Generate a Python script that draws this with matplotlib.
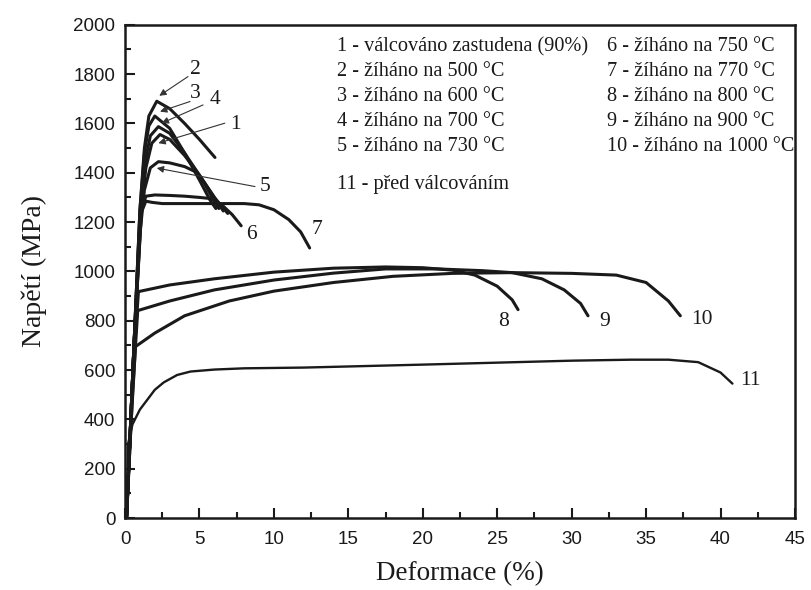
import matplotlib
matplotlib.use("Agg")
import matplotlib.pyplot as plt
from matplotlib.ticker import MultipleLocator

# ---- data (strain %, stress MPa) ----
c1_x = [0.1, 0.6, 1.0, 1.4, 1.8, 2.35, 3.0, 4.0, 5.0, 6.0, 6.6]
c1_y = [0, 700, 1200, 1420, 1520, 1555, 1535, 1470, 1390, 1300, 1245]
c2_x = [0.1, 0.6, 1.0, 1.3, 1.6, 2.13, 3.0, 4.0, 5.0, 6.04]
c2_y = [0, 700, 1250, 1500, 1630, 1690, 1660, 1600, 1535, 1462]
c3_x = [0.1, 0.6, 1.0, 1.3, 1.6, 2.0, 3.0, 4.0, 5.0, 5.7, 6.1]
c3_y = [0, 700, 1250, 1480, 1590, 1630, 1580, 1480, 1370, 1290, 1255]
c4_x = [0.1, 0.6, 1.0, 1.3, 1.7, 2.24, 3.0, 4.0, 5.0, 6.0, 6.9]
c4_y = [0, 700, 1230, 1430, 1550, 1587, 1560, 1480, 1390, 1300, 1235]
c5_x = [0.1, 0.6, 1.0, 1.3, 1.7, 2.24, 3.0, 4.0, 4.7, 5.3, 5.8, 6.3]
c5_y = [0, 700, 1150, 1330, 1420, 1445, 1440, 1425, 1405, 1360, 1305, 1255]
c6_x = [0.1, 0.6, 1.1, 1.4, 2.0, 3.0, 4.0, 5.0, 5.8, 6.5, 7.2, 7.8]
c6_y = [0, 700, 1250, 1305, 1310, 1308, 1305, 1300, 1295, 1270, 1230, 1185]
c7_x = [0.1, 0.6, 1.1, 1.4, 1.8, 2.5, 4.0, 6.0, 8.0, 9.0, 10.0, 11.0, 11.8, 12.4]
c7_y = [0, 700, 1240, 1285, 1280, 1275, 1275, 1275, 1275, 1270, 1250, 1210, 1160, 1095]
c8_x = [0.1, 0.5, 0.9, 3, 6, 10, 14, 17.5, 20, 22, 23.5, 25, 26, 26.4]
c8_y = [0, 560, 918, 945, 970, 997, 1013, 1018, 1015, 1005, 985, 940, 885, 845]
c9_x = [0.1, 0.5, 0.85, 3, 6, 10, 14, 17.5, 21, 24, 26, 28, 29.5, 30.6, 31.1]
c9_y = [0, 500, 841, 880, 925, 965, 993, 1010, 1010, 1003, 995, 970, 925, 870, 820]
c10_x = [0.1, 0.4, 0.7, 2, 4, 7, 10, 14, 18, 22, 26, 30, 33, 35, 36.5, 37.3]
c10_y = [0, 380, 695, 750, 820, 880, 920, 955, 980, 992, 995, 992, 985, 955, 880, 820]
c11_x = [0.1, 0.15, 0.2, 0.5, 1.0, 1.5, 2.0, 2.6, 3.5, 4.4, 6, 8, 12, 16, 20, 25, 30, 34, 36.5, 38.5, 40, 40.8]
c11_y = [0, 100, 300, 380, 440, 480, 520, 550, 580, 594, 602, 607, 610, 616, 622, 630, 638, 642, 642, 632, 590, 545]

curves = [(c1_x, c1_y), (c2_x, c2_y), (c3_x, c3_y), (c4_x, c4_y), (c5_x, c5_y),
          (c6_x, c6_y), (c7_x, c7_y), (c8_x, c8_y), (c9_x, c9_y), (c10_x, c10_y),
          (c11_x, c11_y)]

legend_col1 = ["1 - válcováno zastudena (90%)", "2 - žíháno na 500 °C", "3 - žíháno na 600 °C",
               "4 - žíháno na 700 °C", "5 - žíháno na 730 °C"]
legend_col2 = ["6 - žíháno na 750 °C", "7 - žíháno na 770 °C", "8 - žíháno na 800 °C",
               "9 - žíháno na 900 °C", "10 - žíháno na 1000 °C"]
legend_extra = "11 - před válcováním"

# arrow labels: (text, label pos, arrow tail, arrow head)
arrow_labels = [
    ("2", (4.7, 1817), (4.23, 1790), (2.3, 1712)),
    ("3", (4.7, 1723), (4.37, 1689), (2.35, 1648)),
    ("4", (6.04, 1696), (5.24, 1675), (2.46, 1601)),
    ("1", (7.39, 1594), (6.7, 1601), (2.24, 1520)),
    ("5", (9.4, 1344), (8.73, 1344), (2.13, 1419)),
]
plain_labels = [("6", (8.46, 1148)), ("7", (12.9, 1168)), ("8", (25.4, 795)),
                ("9", (32.2, 795)), ("10", (38.75, 803)), ("11", (42.0, 556))]

serif = ["Liberation Serif", "DejaVu Serif"]
tickfont = ["Liberation Sans Narrow", "Liberation Sans", "DejaVu Sans"]

fig = plt.figure(figsize=(8.12, 5.90), dpi=100)
ax = fig.add_axes([0.154, 0.122, 0.825, 0.836])

lc = "#1a1a1a"
for i, (xs, ys) in enumerate(curves):
    lw = 1.7 if i == 10 else 2.2
    ax.plot(xs, ys, color=lc, lw=lw, solid_capstyle="round", solid_joinstyle="round")

for txt, lp, tail, head in arrow_labels:
    ax.annotate("", xy=head, xytext=tail,
                arrowprops=dict(arrowstyle="-|>", color="#333333", lw=0.8,
                                mutation_scale=10, shrinkA=0, shrinkB=0))
    ax.text(lp[0], lp[1], txt, family=serif, fontsize=15.5, ha="center", va="center", color=lc)
for txt, lp in plain_labels:
    ax.text(lp[0], lp[1], txt, family=serif, fontsize=15.5, ha="center", va="center", color=lc)

rows_y = [1911, 1809, 1708, 1607, 1505]
fs_leg = 14.6
for t, yy in zip(legend_col1, rows_y):
    ax.text(14.24, yy, t, family=serif, fontsize=fs_leg, ha="left", va="center", color=lc)
for t, yy in zip(legend_col2, rows_y):
    ax.text(32.4, yy, t, family=serif, fontsize=fs_leg, ha="left", va="center", color=lc)
ax.text(14.24, 1351, legend_extra, family=serif, fontsize=fs_leg, ha="left", va="center", color=lc)

ax.set_xlim(0, 45)
ax.set_ylim(0, 2000)
ax.xaxis.set_major_locator(MultipleLocator(5))
ax.xaxis.set_minor_locator(MultipleLocator(2.5))
ax.yaxis.set_major_locator(MultipleLocator(200))
ax.yaxis.set_minor_locator(MultipleLocator(100))
ax.tick_params(which="both", direction="in", width=1.5, colors=lc, labelsize=13.5)
ax.tick_params(which="major", length=7)
ax.tick_params(which="minor", length=4)
ax.tick_params(axis="x", which="major", pad=9)
ax.tick_params(axis="y", which="major", pad=7)
ax.tick_params(top=False, right=False, which="both")
for lab in ax.get_xticklabels() + ax.get_yticklabels():
    lab.set_family(tickfont)
for s in ax.spines.values():
    s.set_linewidth(1.8)
    s.set_color(lc)

ax.set_xlabel("Deformace (%)", family=serif, fontsize=19.5, color=lc, labelpad=10)
ax.set_ylabel("Napětí (MPa)", family=serif, fontsize=20, color=lc, labelpad=19)

fig.savefig("out.png", dpi=100)
